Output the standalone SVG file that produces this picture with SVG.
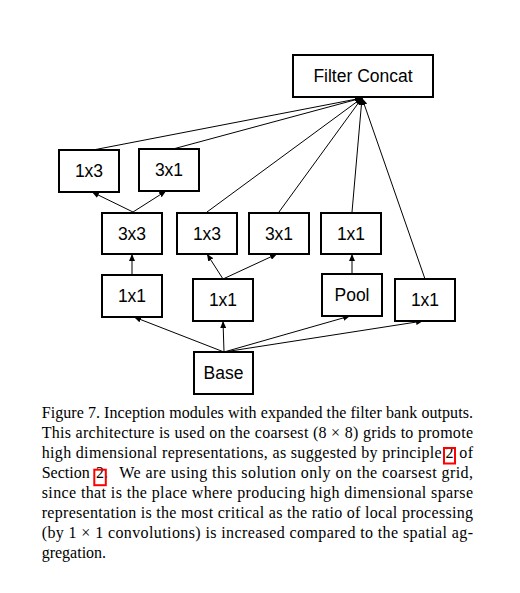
<svg xmlns="http://www.w3.org/2000/svg" width="520" height="593" viewBox="0 0 520 593">
<style>
.box{fill:#fff;stroke:#000;stroke-width:2}
.lbl{font-family:"Liberation Sans",Arial,sans-serif;font-size:17.5px;fill:#000;text-anchor:middle}
.con line{stroke:#000;stroke-width:1}
.cap{font-family:"Liberation Serif","Times New Roman",serif;font-size:16px;fill:#000}
.ref{fill:none;stroke:#f00;stroke-width:2}
</style>
<defs>
<marker id="ah" markerUnits="userSpaceOnUse" markerWidth="7" markerHeight="6" refX="7" refY="3" orient="auto">
<path d="M0,0 L7,3 L0,6 z" fill="#000"/>
</marker>
</defs>
<rect width="520" height="593" fill="#fff"/>
<g class="con">
<line x1="93" y1="150" x2="362" y2="98" marker-end="url(#ah)"/>
<line x1="173" y1="149" x2="362" y2="98" marker-end="url(#ah)"/>
<line x1="207" y1="212" x2="362" y2="98" marker-end="url(#ah)"/>
<line x1="279" y1="212" x2="362" y2="98" marker-end="url(#ah)"/>
<line x1="352" y1="212" x2="362" y2="98" marker-end="url(#ah)"/>
<line x1="425" y1="279" x2="362" y2="98" marker-end="url(#ah)"/>
<line x1="133" y1="212" x2="92" y2="192" marker-end="url(#ah)"/>
<line x1="133" y1="212" x2="166" y2="191" marker-end="url(#ah)"/>
<line x1="132" y1="275" x2="132" y2="254" marker-end="url(#ah)"/>
<line x1="223" y1="279" x2="207" y2="254" marker-end="url(#ah)"/>
<line x1="223" y1="279" x2="277" y2="254" marker-end="url(#ah)"/>
<line x1="352" y1="274" x2="352" y2="254" marker-end="url(#ah)"/>
<line x1="224" y1="352" x2="134" y2="317" marker-end="url(#ah)"/>
<line x1="224" y1="352" x2="223" y2="321" marker-end="url(#ah)"/>
<line x1="224" y1="352" x2="350" y2="316" marker-end="url(#ah)"/>
<line x1="224" y1="352" x2="423" y2="321" marker-end="url(#ah)"/>
</g>
<g id="concat"><rect class="box" x="293" y="55" width="140" height="42"/><text class="lbl" x="363" y="82">Filter Concat</text></g>
<g id="n1x3a"><rect class="box" x="59" y="150" width="60" height="42"/><text class="lbl" x="89" y="177">1x3</text></g>
<g id="n3x1a"><rect class="box" x="139" y="149" width="60" height="42"/><text class="lbl" x="169" y="176">3x1</text></g>
<g id="n3x3"><rect class="box" x="102" y="213" width="60" height="41"/><text class="lbl" x="132" y="240">3x3</text></g>
<g id="n1x3b"><rect class="box" x="177" y="213" width="60" height="41"/><text class="lbl" x="207" y="240">1x3</text></g>
<g id="n3x1b"><rect class="box" x="249" y="213" width="60" height="41"/><text class="lbl" x="279" y="240">3x1</text></g>
<g id="n1x1c"><rect class="box" x="321" y="213" width="60" height="41"/><text class="lbl" x="351" y="240">1x1</text></g>
<g id="n1x1a"><rect class="box" x="102" y="275" width="60" height="42"/><text class="lbl" x="132" y="302">1x1</text></g>
<g id="n1x1b"><rect class="box" x="193" y="279" width="60" height="42"/><text class="lbl" x="223" y="306">1x1</text></g>
<g id="pool"><rect class="box" x="322" y="274" width="60" height="42"/><text class="lbl" x="352" y="301">Pool</text></g>
<g id="n1x1d"><rect class="box" x="395" y="279" width="60" height="42"/><text class="lbl" x="425" y="306">1x1</text></g>
<g id="base"><rect class="box" x="194" y="352" width="59" height="42"/><text class="lbl" x="223.5" y="379">Base</text></g>
<g id="caption" class="cap">
<text x="41.7" y="418" textLength="431.3" lengthAdjust="spacing">Figure 7. Inception modules with expanded the filter bank outputs.</text>
<text x="41.7" y="438" textLength="431.3" lengthAdjust="spacing">This architecture is used on the coarsest (8 × 8) grids to promote</text>
<text x="41.7" y="458" textLength="400" lengthAdjust="spacing">high dimensional representations, as suggested by principle</text>
<text x="445.5" y="458">2</text>
<text x="459.3" y="458" textLength="13.7" lengthAdjust="spacing">of</text>
<rect class="ref" x="444" y="448" width="11" height="15.5"/>
<text x="41.7" y="478">Section</text>
<text x="96" y="478">2</text>
<text x="104" y="478">.</text>
<text x="119.3" y="478" textLength="353.7" lengthAdjust="spacing">We are using this solution only on the coarsest grid,</text>
<rect class="ref" x="94.3" y="469.7" width="11.5" height="15.5"/>
<text x="41.7" y="498" textLength="431.3" lengthAdjust="spacing">since that is the place where producing high dimensional sparse</text>
<text x="41.7" y="518" textLength="431.3" lengthAdjust="spacing">representation is the most critical as the ratio of local processing</text>
<text x="41.7" y="538" textLength="431.3" lengthAdjust="spacing">(by 1 × 1 convolutions) is increased compared to the spatial ag-</text>
<text x="41.7" y="558">gregation.</text>
</g>
</svg>
